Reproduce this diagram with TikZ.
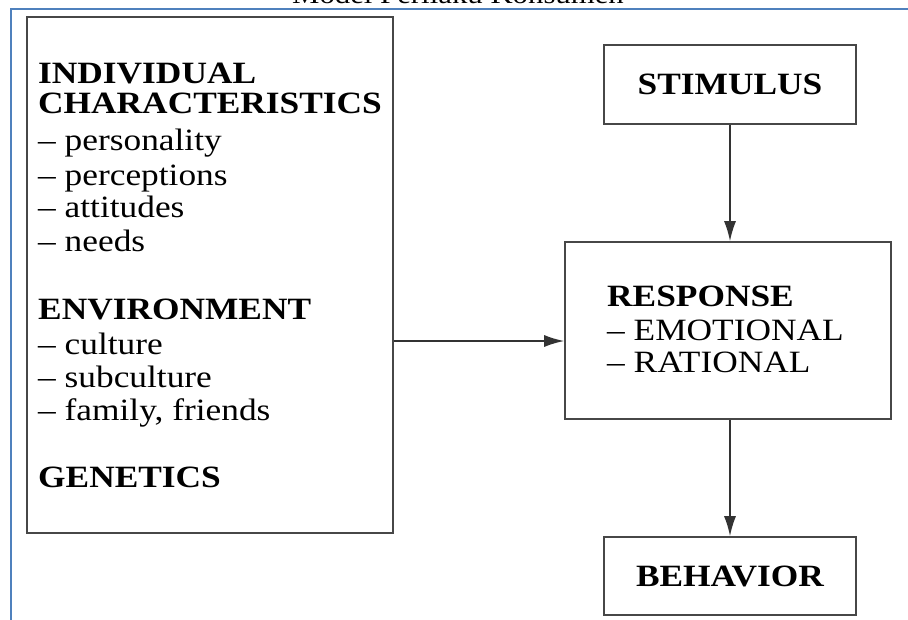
\documentclass[tikz,border=0pt]{standalone}
\usepackage{fontspec}
\setmainfont{Liberation Serif}[FakeStretch=1.14]
\usetikzlibrary{arrows.meta}
\definecolor{frameblue}{RGB}{79,129,189}
\begin{document}
\begin{tikzpicture}[x=1pt,y=-1pt,
  box/.style={draw=black!72, line width=1.6pt, inner sep=0pt, rectangle},
  txt/.style={anchor=base west, inner sep=0pt, font=\fontsize{31}{33}\selectfont},
  head/.style={txt, font=\fontsize{31}{33}\selectfont\bfseries},
  flow/.style={draw=black!80, line width=1.6pt, -{Latex[length=20pt,width=12pt]}},
]
\useasboundingbox (0,0) rectangle (908,619);
\clip (0,0) rectangle (908,619);

% page frame and caption above it
\node[anchor=base, inner sep=0pt, font=\fontsize{27}{30}\selectfont] (title) at (458,3) {Model Perilaku Konsumen};
\draw[frameblue, line width=2pt] (11,640) -- (11,9) -- (920,9);

% boxes
\node[box, minimum width=366pt, minimum height=516pt] (left) at (210,275) {};
\node[box, minimum width=252pt, minimum height=79pt, font=\fontsize{31}{33}\selectfont\bfseries] (stim) at (730,84.5) {STIMULUS};
\node[box, minimum width=326pt, minimum height=177pt] (resp) at (728,330.5) {};
\node[box, minimum width=252pt, minimum height=78pt, font=\fontsize{31}{33}\selectfont\bfseries] (beh) at (730,576) {BEHAVIOR};

% factors in the left box
\node[head] (ind1) at (38,83) {INDIVIDUAL};
\node[head] (ind2) at (38,113) {CHARACTERISTICS};
\node[txt] (i1) at (38,150) {\textendash\ personality};
\node[txt] (i2) at (38,185) {\textendash\ perceptions};
\node[txt] (i3) at (38,217) {\textendash\ attitudes};
\node[txt] (i4) at (38,251) {\textendash\ needs};
\node[head] (env) at (38,319) {ENVIRONMENT};
\node[txt] (e1) at (38,354) {\textendash\ culture};
\node[txt] (e2) at (38,387) {\textendash\ subculture};
\node[txt] (e3) at (38,420) {\textendash\ family, friends};
\node[head] (gen) at (38,487) {GENETICS};

% response contents
\node[head] (rh) at (607,306) {RESPONSE};
\node[txt] (r1) at (607,340) {\textendash\ EMOTIONAL};
\node[txt] (r2) at (607,372) {\textendash\ RATIONAL};

% connectors
\coordinate (mid) at (0,341);
\draw[flow] (left.east |- mid) -- (resp.west |- mid);
\draw[flow] (stim.south) -- (stim.south |- resp.north);
\draw[flow] (resp.south -| beh.north) -- (beh.north);
\end{tikzpicture}
\end{document}
